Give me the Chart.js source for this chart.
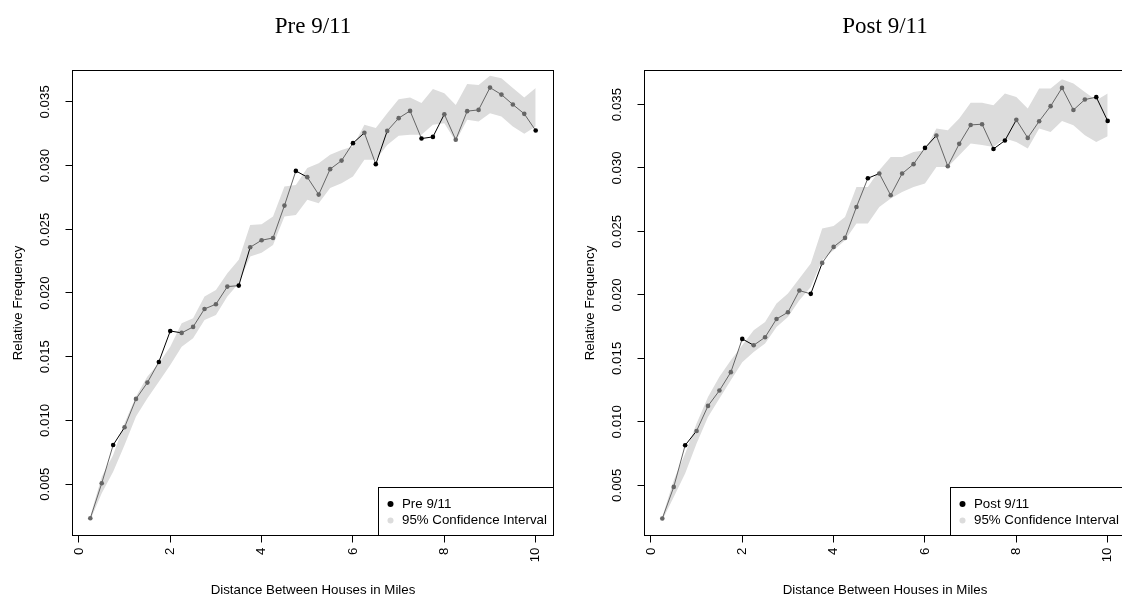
<!DOCTYPE html>
<html>
<head>
<meta charset="utf-8">
<script src="https://cdn.jsdelivr.net/npm/chart.js@4.4.1/dist/chart.umd.min.js"></script>
<style>
  html, body { margin: 0; padding: 0; background: #fff; overflow: hidden; }
  .panel { position: absolute; top: 0; width: 572px; height: 605px; }
</style>
</head>
<body>
<div class="panel" style="left:0"><canvas id="pre"></canvas></div>
<div class="panel" style="left:572px"><canvas id="post"></canvas></div>
<script>
// distance bins (miles)
const distances = [0.25, 0.5, 0.75, 1, 1.25, 1.5, 1.75, 2, 2.25, 2.5, 2.75, 3, 3.25, 3.5, 3.75, 4,
  4.25, 4.5, 4.75, 5, 5.25, 5.5, 5.75, 6, 6.25, 6.5, 6.75, 7, 7.25, 7.5, 7.75, 8,
  8.25, 8.5, 8.75, 9, 9.25, 9.5, 9.75, 10];

// Pre 9/11
const preFreq = [0.00232, 0.00507, 0.00807, 0.00946, 0.01169, 0.01297, 0.01459, 0.01702, 0.01687, 0.01734,
  0.01875, 0.01912, 0.0205, 0.02058, 0.02359, 0.02414, 0.02432, 0.02686, 0.02958, 0.02909,
  0.02772, 0.02972, 0.03039, 0.03176, 0.03257, 0.03011, 0.03272, 0.03372, 0.03429, 0.03212,
  0.03225, 0.03403, 0.03202, 0.03427, 0.03437, 0.03612, 0.03557, 0.03479, 0.03406, 0.03275];
const preLower = [0.00219, 0.00428, 0.00598, 0.00807, 0.0103, 0.01174, 0.01304, 0.01435, 0.01579, 0.01645,
  0.01789, 0.01828, 0.01972, 0.02077, 0.02286, 0.02315, 0.02377, 0.026, 0.02613, 0.02731,
  0.02705, 0.02823, 0.02862, 0.02914, 0.03045, 0.03045, 0.03162, 0.03233, 0.03241, 0.03241,
  0.0332, 0.03333, 0.03188, 0.03359, 0.03345, 0.03411, 0.03385, 0.03306, 0.03249, 0.03306];
const preUpper = [0.0025, 0.00559, 0.00729, 0.0098, 0.01187, 0.01344, 0.01449, 0.01579, 0.01763, 0.01802,
  0.01972, 0.02024, 0.02155, 0.0226, 0.02534, 0.0254, 0.026, 0.02835, 0.02848, 0.0298,
  0.03019, 0.03084, 0.03123, 0.03149, 0.0332, 0.03294, 0.03411, 0.03521, 0.03534, 0.0349,
  0.036, 0.03568, 0.03476, 0.03641, 0.03633, 0.03704, 0.03686, 0.03608, 0.03534, 0.03608];
// 1 = point lies outside the band (drawn black)
const preOutside = [0, 0, 1, 0, 0, 0, 1, 1, 0, 0, 0, 0, 0, 1, 0, 0, 0, 0, 1, 0,
  0, 0, 0, 1, 0, 1, 0, 0, 0, 1, 1, 0, 0, 0, 0, 0, 0, 0, 0, 1];

// Post 9/11
const postFreq = [0.00238, 0.00487, 0.00815, 0.00928, 0.01125, 0.01246, 0.01391, 0.01653, 0.01603, 0.01666,
  0.0181, 0.01863, 0.02034, 0.02008, 0.02252, 0.02378, 0.02449, 0.02693, 0.02919, 0.02956,
  0.02785, 0.02956, 0.0303, 0.03158, 0.03256, 0.03014, 0.0319, 0.03339, 0.03345, 0.0315,
  0.03216, 0.03379, 0.03237, 0.03368, 0.03487, 0.03631, 0.03457, 0.03539, 0.03558, 0.03371];
const postLower = [0.00224, 0.00408, 0.00592, 0.00829, 0.01038, 0.01183, 0.01327, 0.01469, 0.0155, 0.01617,
  0.01747, 0.01826, 0.01958, 0.02063, 0.02273, 0.02352, 0.02431, 0.02562, 0.02562, 0.02693,
  0.02759, 0.02811, 0.02851, 0.02877, 0.03008, 0.03008, 0.031, 0.03193, 0.0318, 0.03166,
  0.03232, 0.03205, 0.03153, 0.03311, 0.03284, 0.03371, 0.03337, 0.03258, 0.03205, 0.0325];
const postUpper = [0.0025, 0.0054, 0.0075, 0.00986, 0.01196, 0.01354, 0.01485, 0.01603, 0.01721, 0.01787,
  0.01932, 0.02011, 0.02129, 0.02247, 0.02523, 0.02543, 0.02614, 0.02851, 0.02851, 0.02982,
  0.03087, 0.03087, 0.03126, 0.0314, 0.03311, 0.03297, 0.0339, 0.03513, 0.03513, 0.03494,
  0.03587, 0.0356, 0.03468, 0.03626, 0.03626, 0.03699, 0.03665, 0.03599, 0.03534, 0.03587];
const postOutside = [0, 0, 1, 0, 0, 0, 0, 1, 0, 0, 0, 0, 0, 1, 0, 0, 0, 0, 1, 0,
  0, 0, 0, 1, 0, 0, 0, 0, 0, 1, 1, 0, 0, 0, 0, 0, 0, 0, 1, 1];

const xTicks = [0, 2, 4, 6, 8, 10];
const yTicks = [0.005, 0.010, 0.015, 0.020, 0.025, 0.030, 0.035];

const sans = "'Liberation Sans', Arial, sans-serif";
const serif = "'Liberation Serif', 'Times New Roman', serif";
const GRAY = '#666666';
const BAND = '#dcdcdc';

// plot box like R's bty="o"
const frame = {
  id: 'frame',
  afterDraw(chart) {
    const {ctx, chartArea: a} = chart;
    ctx.save();
    ctx.strokeStyle = '#000';
    ctx.lineWidth = 1;
    ctx.strokeRect(a.left, a.top, a.right - a.left, a.bottom - a.top);
    ctx.restore();
  }
};

// legend in the bottom right corner of the plot
const cornerLegend = {
  id: 'cornerLegend',
  afterDraw(chart) {
    const {ctx, chartArea: a} = chart;
    const w = 175, h = 48;
    const x0 = a.right - w, y0 = a.bottom - h;
    ctx.save();
    ctx.fillStyle = '#fff';
    ctx.fillRect(x0, y0, w, h);
    ctx.strokeStyle = '#000';
    ctx.lineWidth = 1;
    ctx.strokeRect(x0, y0, w, h);
    const ds = chart.data.datasets;
    const items = [[ds[0].label, '#000'], [ds[1].label, BAND]];
    ctx.font = '13.3px ' + sans;
    ctx.textBaseline = 'middle';
    ctx.textAlign = 'left';
    items.forEach(([text, color], i) => {
      const y = y0 + 16.5 + i * 16.5;
      ctx.fillStyle = color;
      ctx.beginPath();
      ctx.arc(x0 + 12, y, 3, 0, Math.PI * 2);
      ctx.fill();
      ctx.fillStyle = '#000';
      ctx.fillText(text, x0 + 23.5, y);
    });
    ctx.restore();
  }
};

function makePanel(id, title, freq, lower, upper, outside, yMin, yMax) {
  const pts = arr => distances.map((d, i) => ({x: d, y: arr[i]}));
  const dots = outside.map(o => (o ? '#000000' : GRAY));
  return new Chart(document.getElementById(id), {
    type: 'line',
    data: {
      datasets: [
        {
          label: title,
          data: pts(freq),
          borderColor: GRAY,
          borderWidth: 1,
          pointRadius: 2.3,
          pointBorderWidth: 0,
          pointBackgroundColor: dots,
          pointBorderColor: dots,
          tension: 0,
          fill: false,
          segment: { borderColor: c => (outside[c.p0DataIndex] ? '#000000' : GRAY) }
        },
        {
          label: '95% Confidence Interval',
          data: pts(upper),
          borderWidth: 0,
          pointRadius: 0,
          backgroundColor: BAND,
          tension: 0,
          fill: '+1'
        },
        {
          label: 'lower',
          data: pts(lower),
          borderWidth: 0,
          pointRadius: 0,
          tension: 0,
          fill: false
        }
      ]
    },
    options: {
      responsive: true,
      maintainAspectRatio: false,
      animation: false,
      events: [],
      layout: { padding: { left: 0, right: 18.5, top: 0, bottom: 0 } },
      plugins: {
        legend: { display: false },
        tooltip: { enabled: false },
        title: {
          display: true,
          fullSize: false,
          text: title,
          color: '#000',
          font: { family: serif, size: 23, weight: 'normal', lineHeight: 1 },
          padding: { top: 15.5, bottom: 32 }
        }
      },
      scales: {
        x: {
          type: 'linear',
          min: -0.14,
          max: 10.39,
          afterFit: s => { s.height = 69.5; },
          afterBuildTicks: s => { s.ticks = xTicks.map(v => ({value: v})); },
          ticks: {
            autoSkip: false,
            minRotation: 90,
            maxRotation: 90,
            padding: 5,
            color: '#000',
            font: { family: sans, size: 13.3 },
            callback: v => String(v)
          },
          grid: { drawOnChartArea: false, drawTicks: true, tickLength: 7, tickColor: '#000' },
          border: { display: false },
          title: {
            display: true,
            text: 'Distance Between Houses in Miles',
            color: '#000',
            font: { family: sans, size: 13.3 },
            padding: { top: 0, bottom: 7 }
          }
        },
        y: {
          type: 'linear',
          min: yMin,
          max: yMax,
          afterFit: s => { s.width = 72.5; },
          afterBuildTicks: s => { s.ticks = yTicks.map(v => ({value: v})); },
          ticks: {
            minRotation: 90,
            maxRotation: 90,
            crossAlign: 'center',
            padding: 4,
            color: '#000',
            font: { family: sans, size: 13.3 },
            callback: v => v.toFixed(3)
          },
          grid: { drawOnChartArea: false, drawTicks: true, tickLength: 7, tickColor: '#000' },
          border: { display: false },
          title: {
            display: true,
            text: 'Relative Frequency',
            color: '#000',
            font: { family: sans, size: 13.3 },
            padding: { top: 10.5, bottom: 0 }
          }
        }
      }
    },
    plugins: [frame, cornerLegend]
  });
}

makePanel('pre', 'Pre 9/11', preFreq, preLower, preUpper, preOutside, 0.00097, 0.03746);
makePanel('post', 'Post 9/11', postFreq, postLower, postUpper, postOutside, 0.00104, 0.03768);
</script>
</body>
</html>
